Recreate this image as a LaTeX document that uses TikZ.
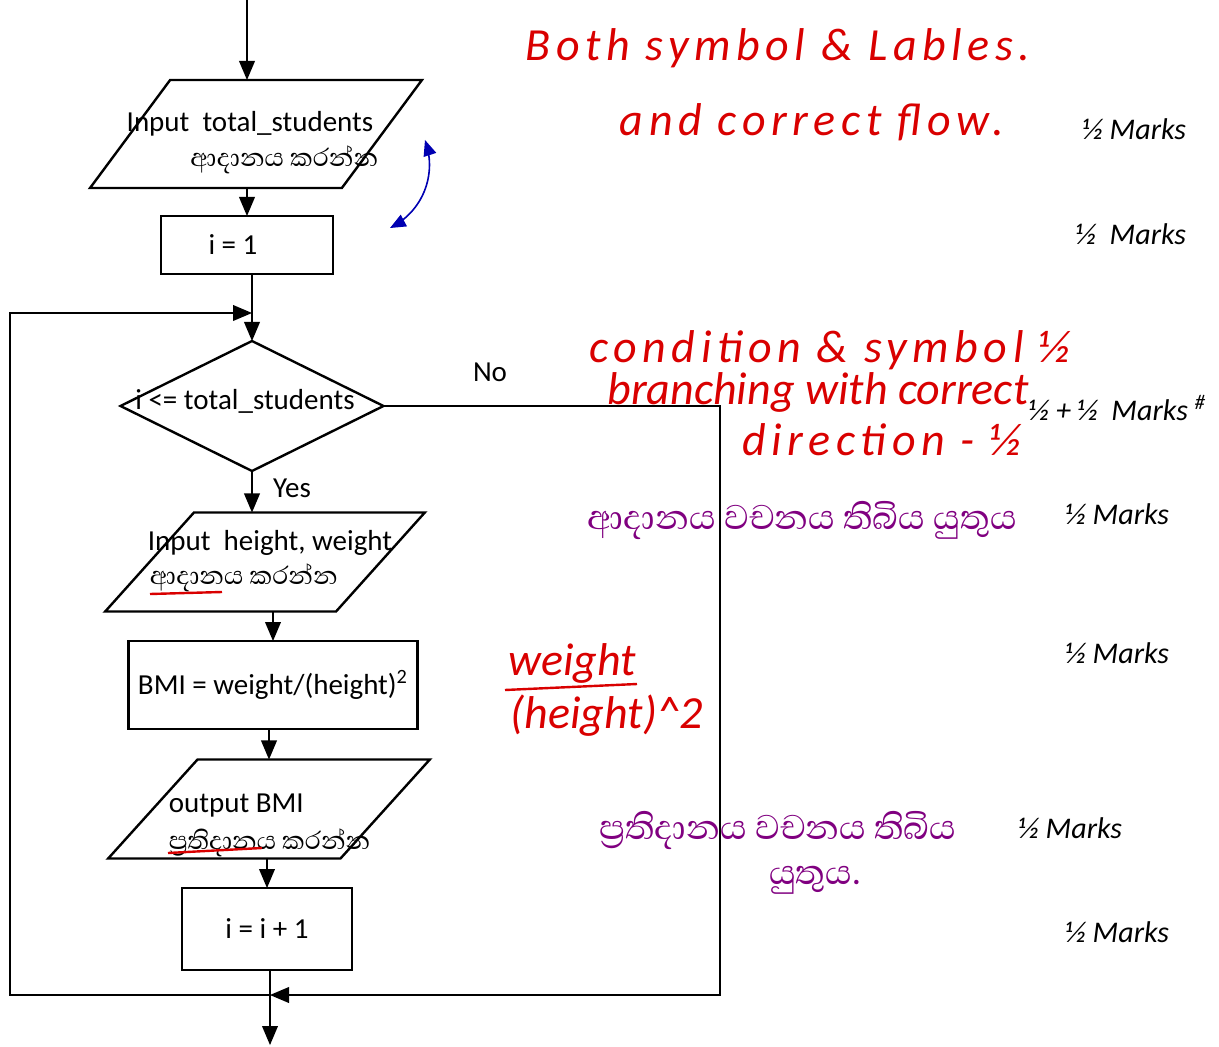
\documentclass[tikz,border=0pt]{standalone}
\usepackage{fontspec}
\setmainfont{Carlito}
\newfontfamily\sinhalafont[Script=Sinhala]{Abhaya Libre}
\usetikzlibrary{arrows,shapes.geometric}

\begin{document}
\begin{tikzpicture}[x=0.5pt,y=-0.5pt,>=triangle 45,line width=1.2pt,
  font=\fontsize{14.5}{17}\selectfont,
  io/.style={draw,shape=trapezium,trapezium stretches=true,trapezium left angle=58,
    trapezium right angle=122,inner sep=3pt,outer sep=0pt},
  proc/.style={draw,rectangle,inner sep=0pt,outer sep=0pt},
  decision/.style={draw,shape=diamond,inner sep=2pt,outer sep=0pt,
    minimum width=131.5pt,minimum height=65pt},
  si/.style={font=\sinhalafont\fontsize{16}{18}\selectfont},
  marks/.style={anchor=east,font=\fontsize{15}{17}\selectfont\itshape},
  note/.style={text=red!85!black,font=\fontsize{23}{26}\selectfont\itshape\addfontfeatures{LetterSpace=12}},
  snote/.style={text=violet,font=\fontsize{22}{26}\selectfont\sinhalafont}]

\useasboundingbox (0,0) rectangle (1219,1047);

% flowchart
\node[io,trapezium left angle=65,trapezium right angle=115,
      minimum width=166pt,minimum height=54pt]   (in1) at (256,134) {};
\node[proc,minimum width=86pt,minimum height=29pt]   (init) at (247,245) {i = 1\kern14pt};
\node[decision]   (cond) at (252,406) {};
\node[io,minimum width=160pt,minimum height=49.5pt]   (in2) at (265,562) {};
\node[proc,minimum width=144.5pt,minimum height=44pt]   (calc) at (273,685) {BMI = weight/(height)\textsuperscript{2}};
\node[io,minimum width=161pt,minimum height=49.5pt]   (out) at (269,809) {};
\node[proc,minimum width=85pt,minimum height=41pt]   (inc) at (267,929) {i = i + 1};

% texts in the symbols
\node (in1txt) at (250,124) {Input\ \ total\_students};
\node[si] (in1si) [anchor=east] at (386,160) {ආදානය කරන්න};
\node (condtxt) at (245,401) {i <= total\_students};
\node (in2txt) at (270,543) {Input\ \ height, weight};
\node[si] (in2si) [anchor=west] at (142,578) {ආදානය කරන්න};
\node (outtxt) [anchor=west] at (161,806) {output BMI};
\node[si] (outsi) [anchor=west] at (161,843) {ප්^^^^200dරතිදානය කරන්න};
\node (yes) at (292,488) {Yes};
\node (no) at (490,372) {No};

\coordinate (start) at (247,0);
\coordinate (merge) at (252,313);
\coordinate (loopl) at (10,313);
\coordinate (loopb) at (10,995);
\coordinate (join) at (270,995);
\coordinate (noc) at (720,406);
\coordinate (nob) at (720,995);
\coordinate (stop) at (270,1045);

\path[->] (start) edge (start |- in1.north)
          (init.north |- in1.south) edge (init.north)
          (cond.south) edge (cond.south |- in2.north)
          (calc.north |- in2.south) edge (calc.north)
          (out.north |- calc.south) edge (out.north)
          (inc.north |- out.south) edge (inc.north)
          (join |- inc.south) edge (stop);
\draw[->] (merge |- init.south) -- (cond.north);
\draw[->] (join) -- (loopb) -- (loopl) -- (merge);
\draw[->] (cond.east) -- (noc) -- (nob) -- (join);

% marks
\node[marks] (m1) at (1194,129) {½ Marks};
\node[marks] (m2) at (1194,234) {½\ \ Marks};
\node[marks] (m3) at (1214,408) {½ + ½\ \ Marks \textsuperscript{\#}};
\node[marks] (m4) at (1177,514) {½ Marks};
\node[marks] (m5) at (1177,653) {½ Marks};
\node[marks] (m6) at (1130,828) {½ Marks};
\node[marks] (m7) at (1177,932) {½ Marks};

% marker's notes
\node[note] (n1) at (778,48) {Both symbol \& Lables.};
\node[note] (n2) at (812,122) {and correct flow.};
\node[note] (n3) at (830,350) {condition \& symbol ½};
\node[note,font=\fontsize{23}{26}\selectfont\itshape] (n4) at (818,392) {branching with correct};
\node[note] (n5) at (882,440) {direction - ½};
\node[note,font=\fontsize{23}{26}\selectfont\itshape] (n6) at (572,663) {weight};
\node[note,font=\fontsize{23}{26}\selectfont\itshape] (n7) at (607,716) {(height)\string^2};
\draw[red!85!black] (505,690) -- (637,684);
\draw[red!85!black] (150,594) -- (222,592);
\draw[red!85!black] (168,853) -- (262,848);
\node[snote] (s1) at (802,520) {ආදානය වචනය තිබිය යුතුය};
\node[snote] (s2) at (778,830) {ප්^^^^200dරතිදානය වචනය තිබිය};
\node[snote] (s3) at (815,880) {යුතුය.};
\draw[<->,blue!70!black,line width=0.8pt] (425,140) to[bend left=40] (390,228);

\end{tikzpicture}
\end{document}
